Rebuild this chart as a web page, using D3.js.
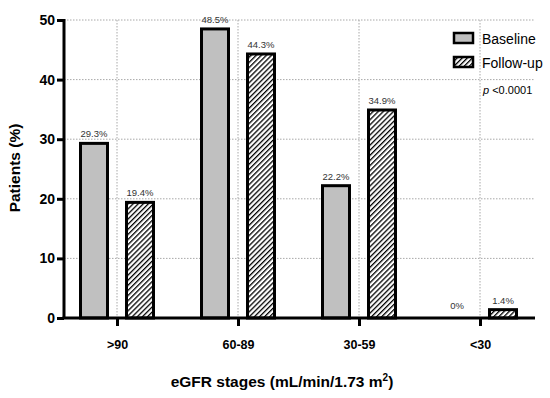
<!DOCTYPE html>
<html><head><meta charset="utf-8">
<script src="https://cdn.jsdelivr.net/npm/d3@7"></script>
<style>body{margin:0;background:#fff}svg{display:block;font-family:"Liberation Sans",Arial,sans-serif}</style>
</head><body><svg id="c" width="550" height="398"></svg>
<script>
const categories = [">90", "60-89", "30-59", "<30"];
const baseline = [29.3, 48.5, 22.2, 0];
const followup = [19.4, 44.3, 34.9, 1.4];
const baselineLabels = ["29.3%", "48.5%", "22.2%", "0%"];
const followupLabels = ["19.4%", "44.3%", "34.9%", "1.4%"];
const yTicks = [0, 10, 20, 30, 40, 50];
const seriesNames = ["Baseline", "Follow-up"];

const svg = d3.select("#c");
const pL = 64, pR = 535, pT = 20, pB = 318;
const x = d3.scalePoint().domain(categories).range([117, 480]);
const y = d3.scaleLinear().domain([0, 50]).range([pB, pT]);

const defs = svg.append("defs");
const pat = defs.append("pattern").attr("id", "hatch").attr("patternUnits", "userSpaceOnUse")
  .attr("width", 3.6).attr("height", 3.6).attr("patternTransform", "rotate(45)");
pat.append("rect").attr("width", 3.6).attr("height", 3.6).attr("fill", "#fff");
pat.append("line").attr("x1", 0).attr("y1", 0).attr("x2", 0).attr("y2", 3.6)
  .attr("stroke", "#000").attr("stroke-width", 2.6);

// grid
const grid = svg.append("g").attr("stroke", "#a8a8a8").attr("stroke-width", 1).attr("stroke-dasharray", "1.5,1.5");
yTicks.filter(t => t > 0).forEach(t => {
  grid.append("line").attr("x1", pL).attr("x2", pR).attr("y1", y(t)).attr("y2", y(t));
});
categories.forEach(c => {
  grid.append("line").attr("x1", x(c)).attr("x2", x(c)).attr("y1", pT).attr("y2", pB);
});

// bars
const bw = 27, off = 23;
const bars = svg.append("g");
categories.forEach((c, i) => {
  const bx = x(c) - off - bw / 2;
  if (baseline[i] > 0) {
    bars.append("rect").attr("x", bx).attr("y", y(baseline[i])).attr("width", bw)
      .attr("height", y(0) - y(baseline[i])).attr("fill", "#c0c0c0").attr("stroke", "#000").attr("stroke-width", 3);
  }
  const fx = x(c) + off - bw / 2;
  bars.append("rect").attr("x", fx).attr("y", y(followup[i])).attr("width", bw)
    .attr("height", y(0) - y(followup[i])).attr("fill", "url(#hatch)").attr("stroke", "#000").attr("stroke-width", 3);
  bars.append("text").attr("x", x(c) - off).attr("y", y(baseline[i]) - (baseline[i] > 0 ? 6 : 9))
    .attr("text-anchor", "middle").attr("font-size", 9.5).attr("fill", "#333").text(baselineLabels[i]);
  bars.append("text").attr("x", x(c) + off).attr("y", y(followup[i]) - 6)
    .attr("text-anchor", "middle").attr("font-size", 9.5).attr("fill", "#333").text(followupLabels[i]);
});

// y axis
const ya = svg.append("g").attr("transform", `translate(${pL},0)`)
  .call(d3.axisLeft(y).tickValues(yTicks).tickSize(7).tickPadding(2));
ya.select(".domain").attr("stroke-width", 3).attr("d", `M0,${pT - 1}V${pB}`);
ya.selectAll(".tick line").attr("stroke-width", 3);
ya.selectAll(".tick text").attr("font-size", 14).attr("font-weight", "bold").attr("fill", "#000")
  .attr("font-family", "Liberation Sans, Arial, sans-serif");

// x axis
const xa = svg.append("g").attr("transform", `translate(0,${pB})`)
  .call(d3.axisBottom(x).tickSize(8).tickPadding(14));
xa.select(".domain").attr("stroke-width", 3).attr("d", `M${pL - 1.5},0H${pR}`);
xa.selectAll(".tick line").attr("stroke-width", 3);
xa.selectAll(".tick text").attr("font-size", 12.5).attr("font-weight", "bold").attr("fill", "#000")
  .attr("font-family", "Liberation Sans, Arial, sans-serif");

// titles
const xt = svg.append("text").attr("x", 282).attr("y", 387).attr("text-anchor", "middle")
  .attr("font-size", 15.5).attr("font-weight", "bold");
xt.append("tspan").text("eGFR stages (mL/min/1.73 m");
xt.append("tspan").attr("font-size", 10).attr("dy", -6).text("2");
xt.append("tspan").attr("dy", 6).text(")");

svg.append("text").attr("transform", "translate(20,168) rotate(-90)").attr("text-anchor", "middle")
  .attr("font-size", 15.5).attr("font-weight", "bold").text("Patients (%)");

// legend
const lg = svg.append("g");
seriesNames.forEach((s, i) => {
  const ly = 33 + i * 24;
  lg.append("rect").attr("x", 454).attr("y", ly).attr("width", 19).attr("height", 10)
    .attr("fill", i === 0 ? "#c0c0c0" : "url(#hatch)").attr("stroke", "#000").attr("stroke-width", 2.5);
  lg.append("text").attr("x", 482).attr("y", ly + 11).attr("font-size", 14).text(s);
});
const pt = svg.append("text").attr("x", 483).attr("y", 94).attr("font-size", 11);
pt.append("tspan").attr("font-style", "italic").text("p");
pt.append("tspan").text(" <0.0001");
</script></body></html>
